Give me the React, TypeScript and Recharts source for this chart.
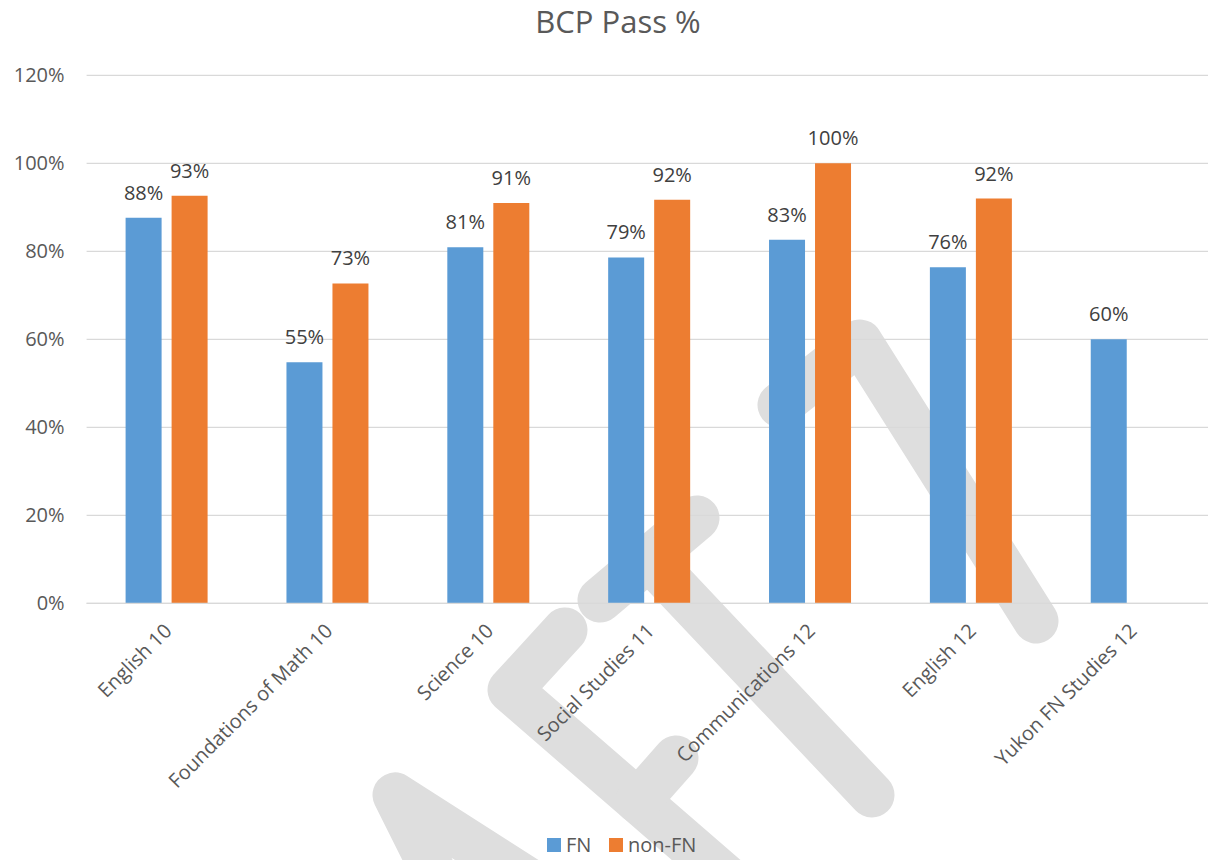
import React from 'react';
import { BarChart, Bar, XAxis, YAxis, CartesianGrid, LabelList } from 'recharts';

const FONT = "'Open Sans', 'Noto Sans', sans-serif";

const categories = [
  'English 10',
  'Foundations of Math 10',
  'Science 10',
  'Social Studies 11',
  'Communications 12',
  'English 12',
  'Yukon FN Studies 12',
];
const fnPass = [87.6, 54.8, 80.9, 78.6, 82.6, 76.4, 60.0];
const nonFnPass: (number | null)[] = [92.6, 72.7, 91.0, 91.7, 100, 92.0, null];
const yTicks = [0, 20, 40, 60, 80, 100, 120];

const series = [
  { key: 'fn', name: 'FN', color: '#5B9BD5' },
  { key: 'nonFn', name: 'non-FN', color: '#ED7D31' },
];

const data = categories.map((name, i) => ({ name, fn: fnPass[i], nonFn: nonFnPass[i] }));

// light grey lettering that sits behind the plot
const watermark = [
  'M 440 885 L 395 795 L 575 910',
  'M 565 630 L 510 690 L 735 885',
  'M 638 801 L 676 758',
  'M 600 600 L 697 518',
  'M 650 560 L 872 795',
  'M 780 405 L 860 342 L 1036 621',
];

const CategoryTick = (props: any) => {
  const { x, y, payload } = props;
  return (
    <g transform={`translate(${x},${y})`}>
      <text
        x={1}
        y={16}
        dy="0.35em"
        transform="rotate(-45, 1, 16)"
        textAnchor="end"
        fill="#595959"
        fontSize={20}
        fontFamily={FONT}
      >
        {payload.value}
      </text>
    </g>
  );
};

const ValueLabel = (props: any) => {
  const { x, y, width, value } = props;
  if (value === null || value === undefined) return null;
  return (
    <text x={x + width / 2} y={y - 18} textAnchor="middle" fill="#404040" fontSize={20} fontFamily={FONT}>
      {Math.round(value)}%
    </text>
  );
};

export default function App() {
  return (
    <div style={{ position: 'absolute', left: 0, top: 0, width: 1208, height: 860, overflow: 'hidden', background: '#fff' }}>
      <svg width={1208} height={860} style={{ position: 'absolute', left: 0, top: 0 }}>
        {watermark.map((d, i) => (
          <path key={i} d={d} fill="none" stroke="#DEDEDE" strokeWidth={45} strokeLinecap="round" strokeLinejoin="round" />
        ))}
        <text x={618} y={33} textAnchor="middle" fill="#595959" fontSize={31} fontFamily={FONT}>
          BCP Pass %
        </text>
        {series.map((s, i) => {
          const left = i === 0 ? 547 : 609;
          return (
            <g key={s.key}>
              <rect x={left} y={838} width={14} height={14} fill={s.color} />
              <text x={left + 19} y={852} fill="#595959" fontSize={20} fontFamily={FONT}>
                {s.name}
              </text>
            </g>
          );
        })}
      </svg>
      <div style={{ position: 'absolute', left: 0, top: 0 }}>
        <BarChart
          width={1216}
          height={860}
          data={data}
          margin={{ top: 75.3, right: 3.4, bottom: 56.7, left: 26.6 }}
          barGap={10}
        >
          <CartesianGrid vertical={false} stroke="#D9D9D9" strokeWidth={1.3} />
          <XAxis
            dataKey="name"
            interval={0}
            height={200}
            tickLine={false}
            axisLine={{ stroke: '#D9D9D9', strokeWidth: 1.3 }}
            tick={<CategoryTick />}
          />
          <YAxis
            width={60}
            domain={[0, 120]}
            ticks={yTicks}
            tickFormatter={(v: number) => `${v}%`}
            axisLine={false}
            tickLine={false}
            tickSize={0}
            tickMargin={22}
            tick={{ fill: '#595959', fontSize: 20, fontFamily: FONT }}
          />
          {series.map((s) => (
            <Bar key={s.key} dataKey={s.key} name={s.name} fill={s.color} barSize={36} isAnimationActive={false}>
              <LabelList dataKey={s.key} content={ValueLabel} />
            </Bar>
          ))}
        </BarChart>
      </div>
    </div>
  );
}
